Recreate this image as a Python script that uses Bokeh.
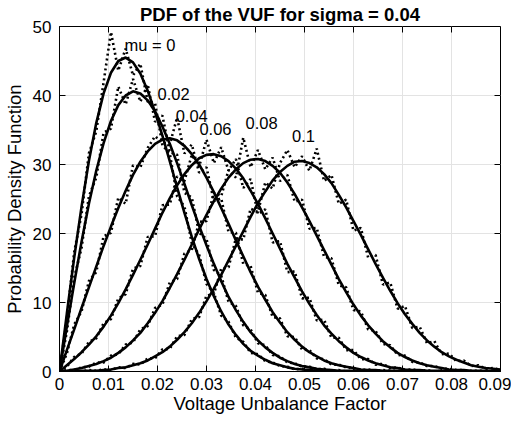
import math
from bokeh.plotting import figure
from bokeh.models import Range1d, FixedTicker, NumeralTickFormatter
from bokeh.embed import file_html
from bokeh.resources import INLINE
from bokeh.core.properties import value

# Voltage unbalance factor grid (step 0.0015)
vuf = [round(i * 0.0015, 4) for i in range(61)]

# Smooth PDF curves, mu = 0 ... 0.1
pdf_mu000 = [0, 8.4, 16.5, 23.9, 30.5, 36, 40.3, 43.3, 45, 45.5, 44.8, 43.2, 40.7, 37.6, 34.2, 30.5, 26.7, 23, 19.5, 16.3,
             13.4, 10.9, 8.7, 6.8, 5.3, 4, 3, 2.3, 1.7, 1.2, 0.9, 0.6, 0.4, 0.3, 0.2, 0.1, 0.1, 0.1, 0, 0,
             0, 0, 0, 0, 0, 0, 0, 0, 0, 0, 0, 0, 0, 0, 0, 0, 0, 0, 0, 0, 0]
pdf_mu002 = [0, 6.5, 12.8, 18.8, 24.3, 29.1, 33.1, 36.3, 38.6, 40, 40.6, 40.3, 39.3, 37.7, 35.5, 33, 30.2, 27.2, 24.1, 21.1,
             18.3, 15.6, 13.1, 10.8, 8.9, 7.2, 5.7, 4.5, 3.5, 2.7, 2, 1.5, 1.1, 0.8, 0.6, 0.4, 0.3, 0.2, 0.1, 0.1,
             0.1, 0, 0, 0, 0, 0, 0, 0, 0, 0, 0, 0, 0, 0, 0, 0, 0, 0, 0, 0, 0]
pdf_mu004 = [0, 3.1, 6.1, 9.2, 12.2, 15.2, 18.2, 21, 23.7, 26.2, 28.5, 30.4, 31.9, 33, 33.6, 33.8, 33.5, 32.7, 31.5, 30,
             28.1, 26, 23.7, 21.4, 19, 16.7, 14.4, 12.3, 10.4, 8.6, 7.1, 5.7, 4.6, 3.6, 2.8, 2.2, 1.6, 1.2, 0.9, 0.7,
             0.5, 0.3, 0.2, 0.2, 0.1, 0.1, 0.1, 0, 0, 0, 0, 0, 0, 0, 0, 0, 0, 0, 0, 0, 0]
pdf_mu006 = [0, 0.9, 1.8, 2.8, 3.9, 5.1, 6.5, 8.1, 9.9, 11.9, 14, 16.2, 18.4, 20.7, 23, 25.1, 27, 28.6, 29.9, 30.9,
             31.4, 31.5, 31.2, 30.5, 29.4, 28, 26.2, 24.3, 22.2, 20, 17.8, 15.6, 13.6, 11.6, 9.8, 8.2, 6.7, 5.5, 4.4, 3.5,
             2.7, 2.1, 1.6, 1.2, 0.9, 0.6, 0.5, 0.3, 0.2, 0.2, 0.1, 0.1, 0.1, 0, 0, 0, 0, 0, 0, 0, 0]
pdf_mu008 = [0, 0.1, 0.3, 0.5, 0.8, 1.1, 1.5, 2, 2.7, 3.5, 4.5, 5.6, 7, 8.5, 10.2, 12.1, 14.1, 16.2, 18.4, 20.6,
             22.7, 24.7, 26.5, 28.1, 29.3, 30.2, 30.7, 30.8, 30.5, 29.8, 28.8, 27.4, 25.7, 23.8, 21.8, 19.7, 17.6, 15.5, 13.4, 11.5,
             9.7, 8.1, 6.7, 5.5, 4.4, 3.5, 2.7, 2.1, 1.6, 1.2, 0.9, 0.7, 0.5, 0.3, 0.2, 0.2, 0.1, 0.1, 0.1, 0, 0]
pdf_mu010 = [0, 0, 0, 0.1, 0.1, 0.1, 0.2, 0.3, 0.5, 0.6, 0.9, 1.2, 1.6, 2.2, 2.8, 3.6, 4.6, 5.7, 7, 8.5,
             10.2, 12, 14, 16.1, 18.2, 20.3, 22.4, 24.4, 26.1, 27.7, 28.9, 29.8, 30.4, 30.5, 30.2, 29.6, 28.6, 27.3, 25.6, 23.8,
             21.8, 19.8, 17.7, 15.6, 13.6, 11.7, 9.9, 8.3, 6.9, 5.6, 4.5, 3.6, 2.8, 2.2, 1.7, 1.3, 0.9, 0.7, 0.5, 0.4, 0.3]

# Simulated (histogram) PDF estimates, dotted
sim_mu000 = [0, 7.6, 17.3, 22.8, 31.6, 34.8, 41.9, 49.2, 43.6, 46.8, 42.9, 44.6, 39.1, 38.9, 32.8, 31.6, 25.4, 23.9, 18.6, 16.9,
             12.7, 11.4, 8.1, 7.2, 4.9, 4.3, 2.7, 2.5, 1.5, 1.3, 0.8, 0.7, 0.3, 0.4, 0.1, 0.2, 0, 0.1, 0, 0,
             0, 0, 0, 0, 0, 0, 0, 0, 0, 0, 0, 0, 0, 0, 0, 0, 0, 0, 0, 0, 0]
sim_mu002 = [0, 5.8, 13.6, 17.9, 25.4, 28.1, 34.6, 35.2, 41.3, 38.7, 42.4, 39.1, 41.6, 36.2, 37.1, 31.8, 31.4, 25.9, 25.2, 20.1,
             19.2, 14.7, 13.9, 10.1, 9.5, 6.7, 6.1, 4.1, 3.8, 2.4, 2.2, 1.3, 1.2, 0.7, 0.7, 0.3, 0.4, 0.1, 0.2, 0,
             0.1, 0, 0, 0, 0, 0, 0, 0, 0, 0, 0, 0, 0, 0, 0, 0, 0, 0, 0, 0, 0]
sim_mu004 = [0, 2.6, 6.8, 8.7, 13.1, 14.4, 19.6, 20.1, 25.2, 24.3, 29.9, 29.6, 32.4, 34.1, 33.2, 32.9, 36.8, 31.6, 32.9, 28.8,
             29.6, 24.7, 25.1, 20.2, 20.1, 15.6, 15.3, 11.4, 11.1, 7.9, 7.7, 5.1, 5.0, 3.2, 3.1, 1.9, 1.8, 1.0, 1.0, 0.6,
             0.5, 0.2, 0.3, 0.1, 0.2, 0.1, 0.1, 0, 0, 0, 0, 0, 0, 0, 0, 0, 0, 0, 0, 0, 0]
sim_mu006 = [0, 0.7, 2.1, 2.6, 4.3, 4.8, 7.0, 7.6, 10.6, 11.2, 14.9, 15.3, 19.5, 19.6, 24.1, 24.2, 28.3, 27.6, 31.4, 29.7,
             33.6, 30.2, 32.5, 29.1, 30.8, 26.6, 27.9, 22.8, 23.5, 18.7, 18.9, 14.4, 14.5, 10.6, 10.7, 7.4, 7.5, 4.9, 4.9, 3.1,
             3.1, 1.8, 1.8, 1.0, 1.1, 0.5, 0.6, 0.2, 0.3, 0.1, 0.2, 0, 0.1, 0, 0, 0, 0, 0, 0, 0, 0]
sim_mu008 = [0, 0.2, 0.2, 0.6, 0.7, 1.3, 1.3, 2.3, 2.5, 3.9, 4.2, 6.1, 6.6, 9.2, 9.7, 12.9, 13.4, 17.1, 17.6, 21.7,
             21.8, 25.9, 25.4, 29.2, 28.1, 33.9, 29.6, 32.1, 29.3, 31.0, 27.6, 28.5, 24.6, 24.9, 20.7, 20.8, 16.6, 16.4, 12.5, 12.2,
             8.9, 8.7, 6.1, 5.9, 4.0, 3.8, 2.4, 2.3, 1.4, 1.3, 0.8, 0.8, 0.4, 0.4, 0.2, 0.2, 0.1, 0.1, 0.1, 0, 0]
sim_mu010 = [0, 0, 0.1, 0, 0.2, 0.1, 0.3, 0.2, 0.6, 0.5, 1.1, 1.0, 1.9, 1.9, 3.2, 3.3, 5.1, 5.3, 7.6, 7.9,
             11.0, 11.2, 14.9, 15.1, 19.3, 19.1, 23.6, 23.1, 27.4, 26.5, 30.2, 32.1, 29.6, 31.2, 29.1, 32.3, 27.6, 28.5, 24.3, 24.9,
             20.4, 20.8, 16.5, 16.9, 12.6, 12.9, 9.1, 9.5, 6.3, 6.5, 4.1, 4.4, 2.5, 2.6, 1.5, 1.6, 0.8, 0.9, 0.4, 0.5, 0.2]

curve_labels = ["mu = 0", "0.02", "0.04", "0.06", "0.08", "0.1"]
x_ticks = [0, 0.01, 0.02, 0.03, 0.04, 0.05, 0.06, 0.07, 0.08, 0.09]
y_ticks = [0, 10, 20, 30, 40, 50]
X_MAX = 0.09
Y_MAX = 50

smooth = [pdf_mu000, pdf_mu002, pdf_mu004, pdf_mu006, pdf_mu008, pdf_mu010]
simulated = [sim_mu000, sim_mu002, sim_mu004, sim_mu006, sim_mu008, sim_mu010]

FONT = "Liberation Sans"
p = figure(width=511, height=416, output_backend="svg", toolbar_location=None,
           x_range=Range1d(0, X_MAX), y_range=Range1d(0, Y_MAX),
           min_border_left=55, min_border_right=11, min_border_top=25, min_border_bottom=0)
p.title.text = "PDF of the VUF for sigma = 0.04"
p.title.align = "center"
p.title.text_font = FONT
p.title.text_font_size = "18.5px"
p.title.text_font_style = "bold"
p.title.text_color = "black"
p.title.standoff = 3

p.outline_line_color = "black"
p.outline_line_width = 1
for ax in (p.xaxis[0], p.yaxis[0]):
    ax.major_tick_in = 6
    ax.major_tick_out = 0
    ax.minor_tick_line_color = None
    ax.axis_line_color = "black"
    ax.major_tick_line_color = "black"
    ax.major_label_text_font = FONT
    ax.major_label_text_font_size = "17px"
    ax.major_label_text_color = "black"
    ax.axis_label_text_font = FONT
    ax.axis_label_text_font_size = "18.5px"
    ax.axis_label_text_font_style = "normal"
    ax.axis_label_text_color = "black"
p.xaxis.ticker = FixedTicker(ticks=x_ticks)
p.xaxis.formatter = NumeralTickFormatter(format="0.[00]")
p.yaxis.ticker = FixedTicker(ticks=y_ticks)
p.xaxis.axis_label = "Voltage Unbalance Factor"
p.yaxis.axis_label = "Probability Density Function"
p.xaxis.major_label_standoff = 6
p.yaxis.major_label_standoff = 8
p.xaxis.axis_label_standoff = 0
p.yaxis.axis_label_standoff = 5

p.xgrid.ticker = FixedTicker(ticks=x_ticks)
p.ygrid.ticker = FixedTicker(ticks=y_ticks)
p.grid.grid_line_color = "#e3e3e3"

# box ticks on top and right edges (inward)
p.ray(x=x_ticks, y=[Y_MAX] * len(x_ticks), length=6, length_units="screen",
      angle=-math.pi / 2, line_color="black", line_width=1)
p.ray(x=[X_MAX] * len(y_ticks), y=y_ticks, length=6, length_units="screen",
      angle=math.pi, line_color="black", line_width=1)

for d in simulated:
    p.line(vuf[:len(d)], d, line_color="black", line_width=2.6, line_dash="2 3")
for c in smooth:
    p.line(vuf[:len(c)], c, line_color="black", line_width=2.6)

lx = [0.01325, 0.0200, 0.0237, 0.02855, 0.03798, 0.04747]
ly = [47.3, 40.2, 37.0, 35.1, 36.0, 34.1]
p.text(lx, ly, text=curve_labels, text_font=value(FONT), text_font_size="16.5px",
       text_baseline="middle", text_align="left", text_color="black")

open("out.html", "w").write(file_html(p, INLINE))
